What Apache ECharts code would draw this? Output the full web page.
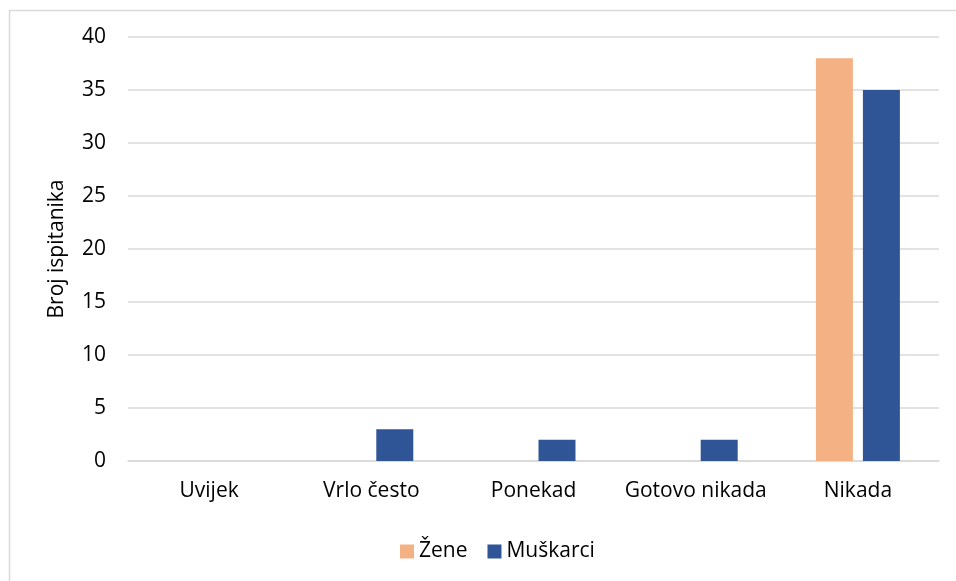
<!DOCTYPE html>
<html>
<head>
<meta charset="utf-8">
<style>
  html, body { margin: 0; padding: 0; background: #fff; }
  #chart { width: 956px; height: 581px; }
</style>
<script src="https://cdn.jsdelivr.net/npm/echarts@6/dist/echarts.min.js"></script>
</head>
<body>
<div id="chart"></div>
<script>
// kategorije i vrijednosti
var categories = ["Uvijek", "Vrlo često", "Ponekad", "Gotovo nikada", "Nikada"];
var zene = [0, 0, 0, 0, 38];
var muskarci = [0, 3, 2, 2, 35];
var yTicks = [0, 5, 10, 15, 20, 25, 30, 35, 40];

(function () {
  var myChart = echarts.init(document.getElementById("chart"));
  var font = "'Open Sans', 'Noto Sans', sans-serif";
  var fs = 21;
  var option = {
    animation: false,
    textStyle: { fontFamily: font },
    // okvir oko grafikona
    graphic: [
      {
        type: "rect",
        left: 7,
        top: 8,
        shape: { width: 2000, height: 2000 },
        style: { fill: "none", stroke: "#d9d9d9", lineWidth: 1.5 },
        silent: true,
      },
    ],
    legend: {
      left: 395,
      top: 536,
      itemWidth: 14,
      itemHeight: 14,
      itemGap: 20,
      icon: "rect",
      textStyle: { color: "#000", fontSize: fs, fontFamily: font },
      data: ["Žene", "Muškarci"],
    },
    grid: {
      left: 128,
      right: 17,
      top: 37,
      bottom: 120,
    },
    xAxis: {
      type: "category",
      data: categories,
      axisTick: { show: false },
      axisLine: { lineStyle: { color: "#d9d9d9", width: 1.5 } },
      axisLabel: {
        interval: 0,
        color: "#000",
        fontSize: fs,
        margin: 20,
        fontFamily: font,
      },
    },
    yAxis: {
      type: "value",
      min: yTicks[0],
      max: yTicks[yTicks.length - 1],
      interval: 5,
      name: "Broj ispitanika",
      nameLocation: "middle",
      nameGap: 60,
      nameTextStyle: { color: "#000", fontSize: fs, fontFamily: font },
      axisLine: { show: false },
      axisTick: { show: false },
      axisLabel: { color: "#000", fontSize: fs, margin: 22, fontFamily: font },
      splitLine: { lineStyle: { color: "#d9d9d9", width: 1.5 } },
    },
    series: [
      {
        name: "Žene",
        type: "bar",
        data: zene,
        barWidth: 37,
        barGap: "27%",
        itemStyle: { color: "#F4B183" },
      },
      {
        name: "Muškarci",
        type: "bar",
        data: muskarci,
        barWidth: 37,
        itemStyle: { color: "#2F5597" },
      },
    ],
  };
  myChart.setOption(option);
  window.addEventListener("resize", function () {
    myChart.resize();
  });
})();
</script>
</body>
</html>
